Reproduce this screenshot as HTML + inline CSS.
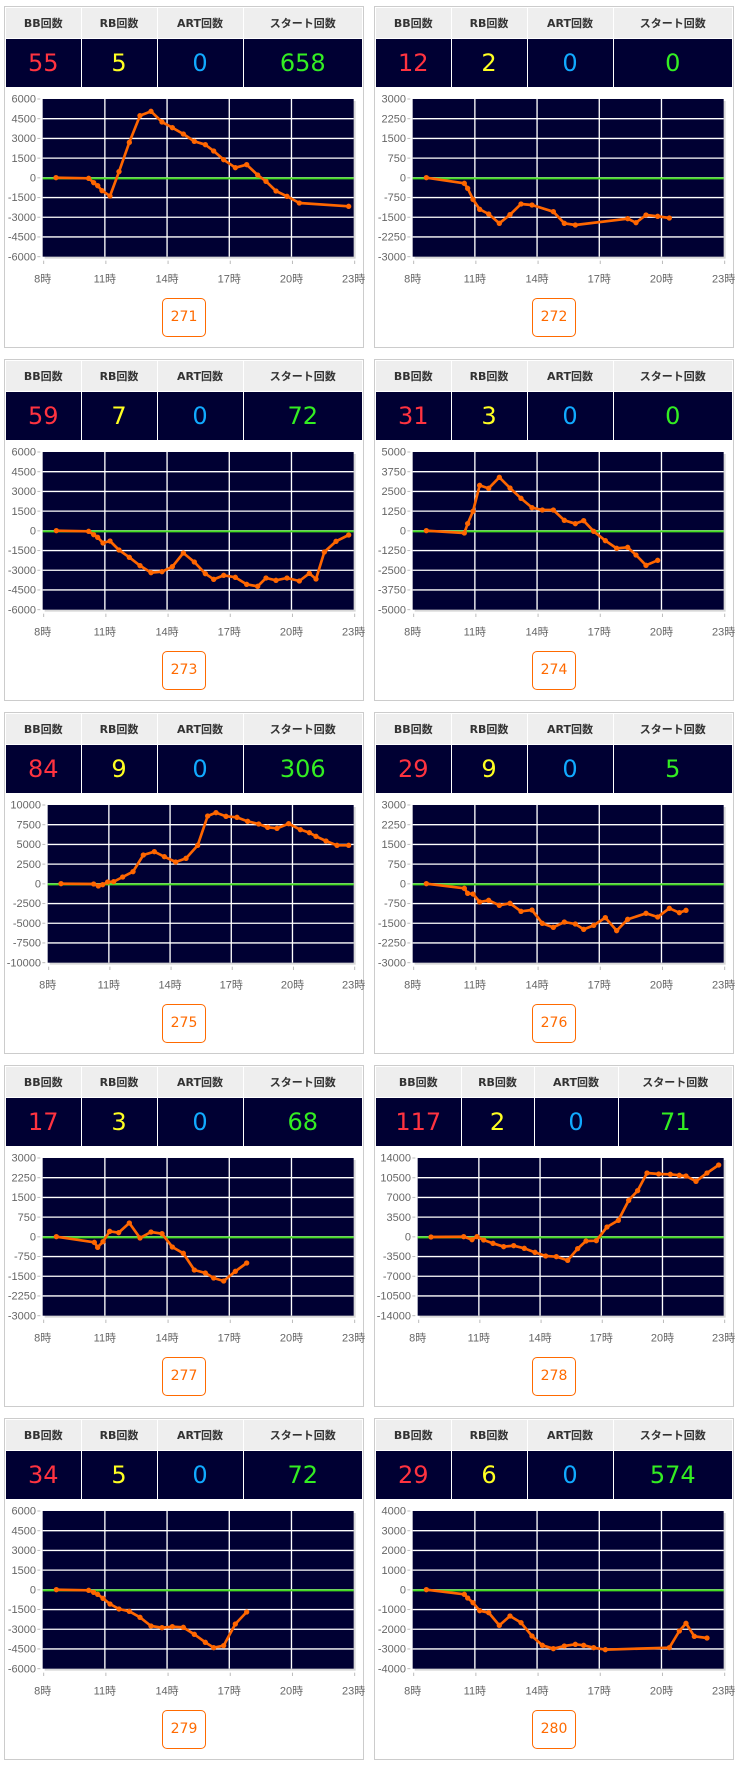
<!DOCTYPE html>
<html><head><meta charset="utf-8">
<style>
body{margin:0;background:#fff;width:739px;height:1765px;position:relative;overflow:hidden;font-family:"DejaVu Sans","Liberation Sans","Noto Sans CJK JP",sans-serif;}
.p{position:absolute;width:358px;height:340px;border:1px solid #ccc;background:#fff;}
table{position:absolute;left:1px;top:1px;width:356px;border-collapse:collapse;table-layout:fixed;}
th{height:30px;background:#eee;font:bold 11px "DejaVu Sans","Noto Sans CJK JP",sans-serif;color:#333;border-right:1px solid #fff;padding:0;text-align:center;}
td{height:48px;background:#000033;border-right:1px solid #fff;border-top:1px solid #fff;font:24px "DejaVu Sans",sans-serif;text-align:center;padding:0;}
th:last-child,td:last-child{border-right:none}
.b{color:#ff3340}.r{color:#ffff22}.a{color:#11aaff}.s{color:#33ee22}
svg{position:absolute;left:-4px;top:83px;}
.btn{position:absolute;left:157px;top:291px;width:42px;height:37px;border:1px solid #ff6a00;border-radius:5px;color:#ff6a00;font:14px "DejaVu Sans",sans-serif;text-align:center;line-height:37px;}
</style></head><body>
<div id="root"></div>
<script>
var C=[
{n:271,v:[55,5,0,658],m:6000,L:125,pts:[[165,263],[263,265],[278,278],[290,287],[303,302],[327,318],[354,245],[385,157],[417,77],[450,64],[483,96],[514,113],[547,132],[580,154],[613,164],[638,183],[668,209],[703,233],[737,224],[770,255],[795,274],[825,303],[858,319],[895,339],[1043,349]]},
{n:272,v:[12,2,0,0],m:3000,L:125,pts:[[166,263],[280,280],[290,295],[306,328],[326,358],[353,372],[385,400],[417,374],[450,342],[483,345],[547,365],[580,400],[613,405],[770,386],[795,398],[825,375],[860,379],[895,384]]},
{n:273,v:[59,7,0,72],m:6000,L:125,pts:[[166,263],[263,265],[278,275],[290,283],[306,300],[327,294],[354,321],[385,343],[417,368],[450,389],[483,386],[514,371],[547,330],[580,357],[613,392],[638,409],[668,397],[703,403],[737,424],[770,430],[795,405],[825,412],[858,405],[895,414],[925,391],[945,408],[970,327],[1005,295],[1043,276]]},
{n:274,v:[31,3,0,0],m:5000,L:125,pts:[[166,263],[280,270],[290,242],[306,205],[326,127],[353,136],[385,103],[417,135],[450,166],[483,194],[514,201],[547,201],[580,232],[613,242],[638,233],[668,265],[703,293],[737,316],[770,313],[795,336],[825,367],[860,352]]},
{n:275,v:[84,9,0,306],m:10000,L:140,pts:[[180,263],[278,264],[292,270],[305,266],[320,258],[338,257],[365,243],[396,227],[427,177],[460,167],[490,182],[524,198],[555,187],[590,148],[620,60],[645,50],[675,61],[708,64],[740,76],[773,84],[800,94],[828,97],[863,83],[898,101],[925,110],[945,121],[975,135],[1008,148],[1043,148]]},
{n:276,v:[29,9,0,5],m:3000,L:125,pts:[[166,263],[280,277],[290,292],[306,294],[326,318],[353,313],[385,328],[417,322],[450,346],[483,342],[514,382],[547,394],[580,378],[613,384],[638,400],[668,388],[703,365],[737,404],[770,370],[825,352],[860,363],[895,337],[925,350],[945,343]]},
{n:277,v:[17,3,0,68],m:3000,L:125,pts:[[166,263],[280,280],[290,295],[306,278],[326,247],[353,251],[385,222],[417,267],[450,249],[483,254],[514,294],[547,313],[580,363],[613,372],[638,387],[668,396],[703,367],[737,342]]},
{n:278,v:[117,2,0,71],m:14000,L:140,w:[85,73,84,114],pts:[[180,264],[278,263],[303,272],[318,263],[338,273],[366,283],[398,293],[428,290],[460,298],[492,310],[524,321],[556,323],[590,334],[620,299],[645,276],[676,275],[708,234],[742,214],[773,154],[800,125],[828,72],[863,75],[898,76],[925,79],[945,81],[975,97],[1008,72],[1043,48]]},
{n:279,v:[34,5,0,72],m:6000,L:125,pts:[[166,263],[263,265],[278,271],[290,277],[306,289],[327,306],[354,321],[385,328],[417,346],[450,372],[483,377],[514,374],[547,376],[580,397],[613,421],[638,437],[668,431],[703,366],[737,330]]},
{n:280,v:[29,6,0,574],m:4000,L:125,pts:[[166,263],[280,277],[290,288],[306,302],[326,326],[353,332],[385,370],[417,342],[450,362],[483,402],[514,430],[547,440],[580,432],[613,427],[638,430],[668,437],[703,443],[895,437],[925,387],[945,364],[970,403],[1008,408]]}
];
var h='';
C.forEach(function(c,i){
 var col=i%2,row=Math.floor(i/2);
 var left=col?374:4,top=6+row*353;
 var w=c.w||[75,76,86,119];
 h+='<div class="p" style="left:'+left+'px;top:'+top+'px">';
 h+='<table><colgroup>'+w.map(function(x){return '<col style="width:'+x+'px">'}).join('')+'</colgroup>';
 h+='<tr><th>BB回数</th><th>RB回数</th><th>ART回数</th><th>スタート回数</th></tr>';
 h+='<tr><td class="b">'+c.v[0]+'</td><td class="r">'+c.v[1]+'</td><td class="a">'+c.v[2]+'</td><td class="s">'+c.v[3]+'</td></tr></table>';
 var L=c.L,R=1058,T=27,B=500;
 var s='<svg width="369" height="200" viewBox="0 0 1107 600">';
 s+='<rect x="'+(L+6)+'" y="'+(T+6)+'" width="'+(R-L)+'" height="'+(B-T)+'" fill="#d8d8d8"/>';
 s+='<rect x="'+L+'" y="'+T+'" width="'+(R-L)+'" height="'+(B-T)+'" fill="#000033"/>';
 for(var k=0;k<=8;k++){
  var y=T+(B-T)*k/8;
  if(k>0&&k<8) s+='<line x1="'+L+'" x2="'+R+'" y1="'+y+'" y2="'+y+'" stroke="#fff" stroke-width="4"/>';
  s+='<line x1="'+(L-16)+'" x2="'+(L-7)+'" y1="'+y+'" y2="'+y+'" stroke="#bbb" stroke-width="3"/>';
  var val=c.m-c.m/4*k;
  s+='<text x="'+(L-20)+'" y="'+(y+11)+'" text-anchor="end" font-size="33" fill="#666" font-family="Liberation Sans,sans-serif">'+val+'</text>';
 }
 for(var k=0;k<=5;k++){
  var x=L+(R-L)*k/5;
  if(k>0&&k<5) s+='<line x1="'+x+'" x2="'+x+'" y1="'+T+'" y2="'+B+'" stroke="#fff" stroke-width="4"/>';
  s+='<line x1="'+(x+3)+'" x2="'+(x+3)+'" y1="'+(B+12)+'" y2="'+(B+22)+'" stroke="#bbb" stroke-width="3"/>';
  s+='<text x="'+x+'" y="'+(578)+'" text-anchor="middle" font-size="33" fill="#666" font-family="Liberation Sans,Noto Sans CJK JP,sans-serif">'+(8+3*k)+'時</text>';
 }
 s+='<line x1="'+L+'" x2="'+R+'" y1="265" y2="265" stroke="#44dd22" stroke-width="6"/>';
 s+='<polyline fill="none" stroke="#ff6600" stroke-width="8" stroke-linejoin="round" points="'+c.pts.map(function(p){return p.join(',')}).join(' ')+'"/>';
 c.pts.forEach(function(p){s+='<circle cx="'+p[0]+'" cy="'+p[1]+'" r="8" fill="#ff6600"/>';});
 s+='</svg>';
 h+=s+'<div class="btn">'+c.n+'</div></div>';
});
document.getElementById('root').innerHTML=h;
</script>
</body></html>
